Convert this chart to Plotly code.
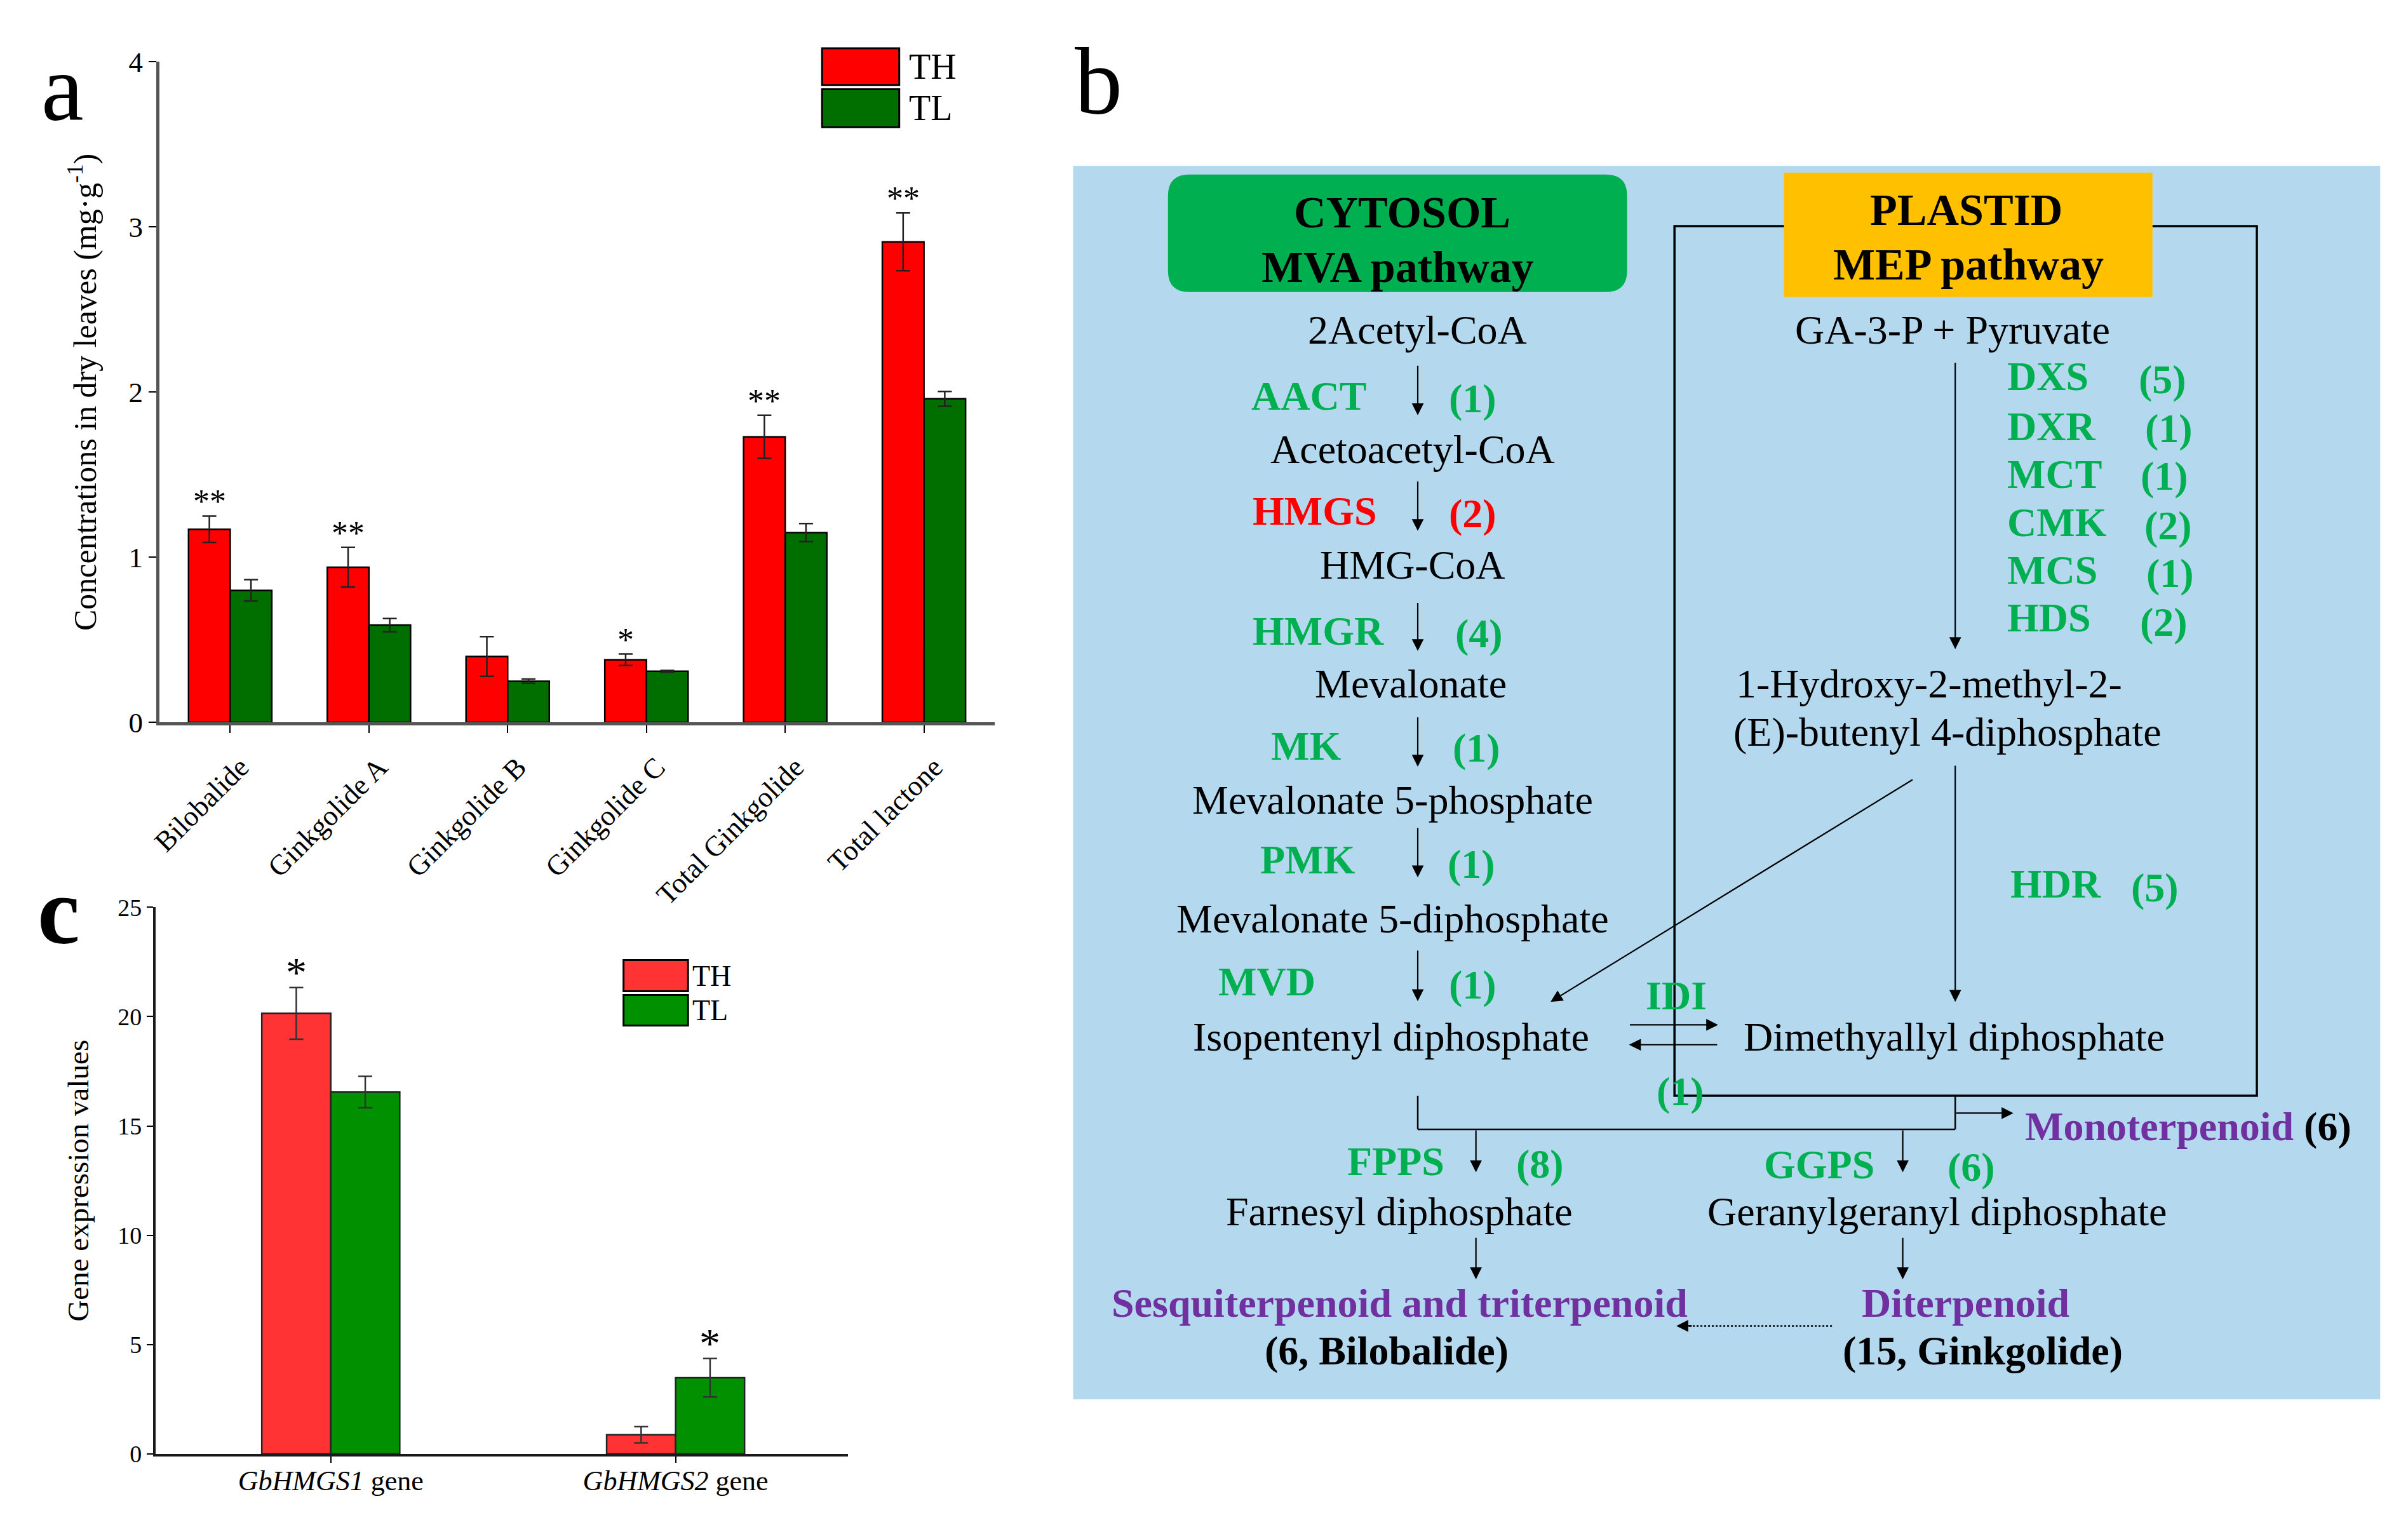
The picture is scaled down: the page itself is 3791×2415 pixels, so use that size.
import plotly.graph_objects as go

# ------------------------------------------------------------------
# DATA
# ------------------------------------------------------------------
compounds = ["Bilobalide", "Ginkgolide A", "Ginkgolide B", "Ginkgolide C",
             "Total Ginkgolide", "Total lactone"]
conc_TH = [1.17, 0.94, 0.40, 0.38, 1.73, 2.91]
conc_TH_err = [0.08, 0.12, 0.12, 0.035, 0.13, 0.175]
conc_TL = [0.80, 0.59, 0.25, 0.31, 1.15, 1.96]
conc_TL_err = [0.065, 0.04, 0.013, 0.005, 0.055, 0.045]
conc_sig_TH = ["**", "**", "", "*", "**", "**"]

genes = ["<i>GbHMGS1</i> gene", "<i>GbHMGS2</i> gene"]
expr_TH = [20.15, 0.88]
expr_TH_err = [1.18, 0.37]
expr_TL = [16.55, 3.49]
expr_TL_err = [0.72, 0.88]
expr_sig_TH = ["*", ""]
expr_sig_TL = ["", "*"]

series_names = ["TH", "TL"]

# ------------------------------------------------------------------
# STYLE / LAYOUT
# ------------------------------------------------------------------
W, H = 3791, 2415
SERIF = "Liberation Serif, Times New Roman, serif"
RED_A, GREEN_A = "#FF0000", "#006F00"
RED_C, GREEN_C = "#FF3333", "#009000"
BAR_A, BAR_C = 0.30, 0.20

BG_BLUE = "#B4D8EE"
CYTO_GREEN = "#00B050"
PLAST_ORANGE = "#FFC000"
ENZ_GREEN = "#00B050"
PURPLE = "#7030A0"


def PX(x):
    return x / W


def PY(y):
    return 1 - y / H


fig = go.Figure()

# ---------------- panel a bars ----------------
fig.add_trace(go.Bar(
    x=compounds, y=conc_TH, name=series_names[0], width=BAR_A, offset=-BAR_A,
    marker=dict(color=RED_A, line=dict(color="black", width=2.5)),
    error_y=dict(type="data", array=conc_TH_err, color="#222222", thickness=2.5, width=11),
    xaxis="x", yaxis="y", showlegend=False))
fig.add_trace(go.Bar(
    x=compounds, y=conc_TL, name=series_names[1], width=BAR_A, offset=0,
    marker=dict(color=GREEN_A, line=dict(color="black", width=2.5)),
    error_y=dict(type="data", array=conc_TL_err, color="#222222", thickness=2.5, width=11),
    xaxis="x", yaxis="y", showlegend=False))

# ---------------- panel c bars ----------------
fig.add_trace(go.Bar(
    x=genes, y=expr_TH, name=series_names[0], width=BAR_C, offset=-BAR_C,
    marker=dict(color=RED_C, line=dict(color="#222222", width=2.5)),
    error_y=dict(type="data", array=expr_TH_err, color="#333333", thickness=2.5, width=11),
    xaxis="x2", yaxis="y2", showlegend=False))
fig.add_trace(go.Bar(
    x=genes, y=expr_TL, name=series_names[1], width=BAR_C, offset=0,
    marker=dict(color=GREEN_C, line=dict(color="#222222", width=2.5)),
    error_y=dict(type="data", array=expr_TL_err, color="#333333", thickness=2.5, width=11),
    xaxis="x2", yaxis="y2", showlegend=False))

annotations = []
shapes = []

# significance marks
for i, s in enumerate(conc_sig_TH):
    if s:
        annotations.append(dict(x=i - BAR_A / 2, y=conc_TH[i] + conc_TH_err[i], xref="x", yref="y",
                                text=s, showarrow=False, yanchor="bottom", yshift=-8,
                                font=dict(family=SERIF, size=52, color="black")))
for i, s in enumerate(expr_sig_TH):
    if s:
        annotations.append(dict(x=i - BAR_C / 2, y=expr_TH[i] + expr_TH_err[i], xref="x2", yref="y2",
                                text=s, showarrow=False, yanchor="bottom", yshift=-14,
                                font=dict(family=SERIF, size=66, color="black")))
for i, s in enumerate(expr_sig_TL):
    if s:
        annotations.append(dict(x=i + BAR_C / 2, y=expr_TL[i] + expr_TL_err[i], xref="x2", yref="y2",
                                text=s, showarrow=False, yanchor="bottom", yshift=-14,
                                font=dict(family=SERIF, size=66, color="black")))


# legends with large swatches
def legend_block(x0, x1, ys, colors, tx, fsize):
    for (y0, y1), c, name in zip(ys, colors, series_names):
        shapes.append(dict(type="rect", xref="paper", yref="paper",
                           x0=PX(x0), x1=PX(x1), y0=PY(y1), y1=PY(y0),
                           fillcolor=c, line=dict(color="black", width=3)))
        annotations.append(dict(x=PX(tx), y=PY((y0 + y1) / 2), xref="paper", yref="paper",
                                text=name, showarrow=False, xanchor="left", yanchor="middle",
                                font=dict(family=SERIF, size=fsize, color="black")))


legend_block(1283, 1405, [(53, 112), (119, 180)], [RED_A, GREEN_A], 1418, 56)
legend_block(969, 1071, [(1519, 1569), (1575, 1624)], [RED_C, GREEN_C], 1076, 46)

# panel letters
for txt, x, y, bold in [("a", 82, 116, False), ("b", 1720, 106, False), ("c", 76, 1440, True)]:
    annotations.append(dict(x=PX(x), y=PY(y), xref="paper", yref="paper",
                            text=f"<b>{txt}</b>" if bold else txt, showarrow=False,
                            xanchor="center", yanchor="middle",
                            font=dict(family=SERIF, size=150, color="black")))


# ------------------------------------------------------------------
# PANEL b : pathway diagram (pixel coordinates on a hidden overlay axis)
# ------------------------------------------------------------------
def rounded_rect(x0, y0, x1, y1, r):
    return (f"M{x0 + r},{y0} L{x1 - r},{y0} Q{x1},{y0} {x1},{y0 + r} "
            f"L{x1},{y1 - r} Q{x1},{y1} {x1 - r},{y1} L{x0 + r},{y1} "
            f"Q{x0},{y1} {x0},{y1 - r} L{x0},{y0 + r} Q{x0},{y0} {x0 + r},{y0} Z")


DX, DY = "x3", "y3"
shapes.append(dict(type="rect", xref=DX, yref=DY, x0=1680, x1=3747, y0=242, y1=2225,
                   fillcolor=BG_BLUE, line=dict(width=0), layer="below"))
shapes.append(dict(type="path", xref=DX, yref=DY, path=rounded_rect(1830, 256, 2556, 445, 34),
                   fillcolor=CYTO_GREEN, line=dict(width=0)))
shapes.append(dict(type="rect", xref=DX, yref=DY, x0=2631, x1=3552, y0=339, y1=1737,
                   line=dict(color="black", width=3.5)))
shapes.append(dict(type="rect", xref=DX, yref=DY, x0=2804, x1=3387, y0=253, y1=453,
                   fillcolor=PLAST_ORANGE, line=dict(width=0)))

STYLES = {
    "head": (70, "black", True),
    "met": (64, "black", False),
    "enz": (64, ENZ_GREEN, True),
    "red": (64, "#FF0000", True),
    "prod": (64, PURPLE, True),
    "prodk": (64, "black", True),
}

DIAGRAM_TEXT = [
    ("CYTOSOL", 2200, 317, "head", "center"),
    ("MVA pathway", 2193, 405, "head", "center"),
    ("PLASTID", 3092, 313, "head", "center"),
    ("MEP pathway", 3096, 401, "head", "center"),
    ("2Acetyl-CoA", 2224, 506, "met", "center"),
    ("AACT", 2053, 612, "enz", "center"), ("(1)", 2312, 616, "enz", "center"),
    ("Acetoacetyl-CoA", 2217, 698, "met", "center"),
    ("HMGS", 2062, 797, "red", "center"), ("(2)", 2312, 801, "red", "center"),
    ("HMG-CoA", 2217, 884, "met", "center"),
    ("HMGR", 2068, 990, "enz", "center"), ("(4)", 2322, 994, "enz", "center"),
    ("Mevalonate", 2214, 1075, "met", "center"),
    ("MK", 2048, 1175, "enz", "center"), ("(1)", 2318, 1178, "enz", "center"),
    ("Mevalonate 5-phosphate", 2185, 1262, "met", "center"),
    ("PMK", 2051, 1358, "enz", "center"), ("(1)", 2310, 1365, "enz", "center"),
    ("Mevalonate 5-diphosphate", 2185, 1453, "met", "center"),
    ("MVD", 1986, 1554, "enz", "center"), ("(1)", 2312, 1559, "enz", "center"),
    ("Isopentenyl diphosphate", 2183, 1642, "met", "center"),
    ("IDI", 2634, 1576, "enz", "center"), ("(1)", 2640, 1730, "enz", "center"),
    ("Dimethyallyl diphosphate", 3073, 1642, "met", "center"),
    ("GA-3-P + Pyruvate", 3071, 506, "met", "center"),
    ("DXS", 3155, 581, "enz", "left"), ("(5)", 3403, 586, "enz", "center"),
    ("DXR", 3155, 661, "enz", "left"), ("(1)", 3413, 664, "enz", "center"),
    ("MCT", 3155, 738, "enz", "left"), ("(1)", 3406, 741, "enz", "center"),
    ("CMK", 3155, 815, "enz", "left"), ("(2)", 3412, 820, "enz", "center"),
    ("MCS", 3155, 892, "enz", "left"), ("(1)", 3415, 897, "enz", "center"),
    ("HDS", 3155, 969, "enz", "left"), ("(2)", 3405, 976, "enz", "center"),
    ("1-Hydroxy-2-methyl-2-", 2726, 1075, "met", "left"),
    ("(E)-butenyl 4-diphosphate", 2722, 1152, "met", "left"),
    ("HDR", 3234, 1396, "enz", "center"), ("(5)", 3391, 1403, "enz", "center"),
    ("FPPS", 2190, 1843, "enz", "center"), ("(8)", 2418, 1847, "enz", "center"),
    ("GGPS", 2860, 1848, "enz", "center"), ("(6)", 3100, 1852, "enz", "center"),
    ("Farnesyl diphosphate", 2196, 1923, "met", "center"),
    ("Geranylgeranyl diphosphate", 3046, 1923, "met", "center"),
    (f"<span style='color:{PURPLE}'>Monoterpenoid</span> (6)", 3183, 1786, "prodk", "left"),
    ("Sesquiterpenoid and triterpenoid", 2196, 2070, "prod", "center"),
    ("(6, Bilobalide)", 2176, 2147, "prodk", "center"),
    ("Diterpenoid", 3091, 2070, "prod", "center"),
    ("(15, Ginkgolide)", 3118, 2147, "prodk", "center"),
]

for txt, x, y, st, anchor in DIAGRAM_TEXT:
    size, color, bold = STYLES[st]
    annotations.append(dict(x=x, y=y, xref=DX, yref=DY, text=f"<b>{txt}</b>" if bold else txt,
                            showarrow=False, xanchor=anchor, yanchor="middle",
                            font=dict(family=SERIF, size=size, color=color)))

# arrows: tail (x0, y0) -> head (x1, y1)
ARROWS = [
    (2225, 562, 2225, 643), (2225, 748, 2225, 829), (2225, 943, 2225, 1022),
    (2225, 1127, 2225, 1208), (2225, 1305, 2225, 1386), (2225, 1502, 2225, 1585),
    (3075, 557, 3075, 1019), (3075, 1205, 3075, 1586),
    (3009, 1228, 2435, 1586),
    (2559, 1623, 2700, 1623), (2700, 1655, 2559, 1655),
    (3075, 1765, 3167, 1765),
    (2317, 1791, 2317, 1860), (2992, 1791, 2992, 1860),
    (2317, 1964, 2317, 2032), (2992, 1964, 2992, 2032),
    (2660, 2107, 2634, 2107),
]
for x0, y0, x1, y1 in ARROWS:
    annotations.append(dict(x=x1, y=y1, ax=x0, ay=y0, xref=DX, yref=DY, axref=DX, ayref=DY,
                            text="", showarrow=True, arrowhead=2, arrowsize=1.7, arrowwidth=2.2,
                            arrowcolor="black", standoff=0, startstandoff=0))

LINES = [
    (2225, 1737, 2225, 1791), (2225, 1791, 3075, 1791), (3075, 1737, 3075, 1791),
]
for x0, y0, x1, y1 in LINES:
    shapes.append(dict(type="line", xref=DX, yref=DY, x0=x0, y0=y0, x1=x1, y1=y1,
                       line=dict(color="black", width=2.5)))
shapes.append(dict(type="line", xref=DX, yref=DY, x0=2880, y0=2107, x1=2650, y1=2107,
                   line=dict(color="black", width=2.5, dash="dot")))

# ------------------------------------------------------------------
# AXES
# ------------------------------------------------------------------
axis_a = dict(showline=True, linecolor="#555555", linewidth=5, ticks="outside", ticklen=12,
              tickwidth=2, tickcolor="black", showgrid=False, zeroline=False,
              tickfont=dict(family=SERIF, size=45, color="black"))
axis_c = dict(showline=True, linecolor="#1a1a1a", linewidth=4, ticks="outside", ticklen=10,
              tickwidth=2, tickcolor="black", showgrid=False, zeroline=False,
              tickfont=dict(family=SERIF, size=38, color="black"))

fig.update_layout(
    width=W, height=H, margin=dict(l=0, r=0, t=0, b=0, pad=0),
    paper_bgcolor="white", plot_bgcolor="rgba(0,0,0,0)",
    barmode="group",
    xaxis=dict(axis_a, domain=[PX(235), PX(1556)], range=[-0.51, 5.51], type="category",
               tickangle=-45, anchor="y", ticklabelstandoff=9, ticklabelshift=16),
    yaxis=dict(axis_a, domain=[PY(1137), PY(75)], range=[0, 4], dtick=1, anchor="x",
               title=dict(text="Concentrations in dry leaves (mg·g<sup>-1</sup>)", standoff=36,
                          font=dict(family=SERIF, size=50, color="black"))),
    xaxis2=dict(axis_c, domain=[PX(229), PX(1324)], range=[-0.508, 1.5], type="category",
                anchor="y2", ticklabelstandoff=-10, tickfont=dict(family=SERIF, size=44, color="black")),
    yaxis2=dict(axis_c, domain=[PY(2313), PY(1434)], range=[0, 25], dtick=5, anchor="x2",
                title=dict(text="Gene expression values", standoff=32,
                           font=dict(family=SERIF, size=47, color="black"))),
    xaxis3=dict(domain=[0, 1], range=[0, W], visible=False, fixedrange=True, anchor="y3"),
    yaxis3=dict(domain=[0, 1], range=[H, 0], visible=False, fixedrange=True, anchor="x3"),
    shapes=shapes, annotations=annotations, showlegend=False,
)

fig.write_html("out.html", config={"displayModeBar": False},
               post_script="document.body.style.margin='0';")
